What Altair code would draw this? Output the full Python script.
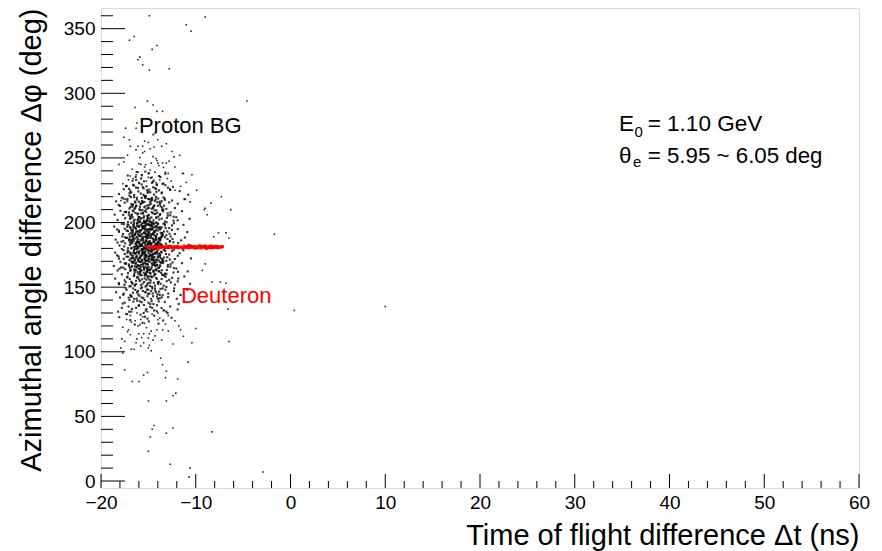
import altair as alt
import pandas as pd

# ---------------- axis ticks ----------------
X_MAJOR = [-20, -10, 0, 10, 20, 30, 40, 50, 60]
X_MINOR = [-18, -16, -14, -12, -8, -6, -4, -2, 2, 4, 6, 8, 12, 14, 16, 18,
           22, 24, 26, 28, 32, 34, 36, 38, 42, 44, 46, 48, 52, 54, 56, 58]
Y_MAJOR = [0, 50, 100, 150, 200, 250, 300, 350]
Y_MINOR = [10, 20, 30, 40, 60, 70, 80, 90, 110, 120, 130, 140, 160, 170, 180, 190,
           210, 220, 230, 240, 260, 270, 280, 290, 310, 320, 330, 340, 360]
X_DOMAIN = [-20, 60]
Y_DOMAIN = [-5.4, 366]

# ---------------- proton background: dense core (Δt ns, Δφ deg) ----------------
BG_CORE = [
    (-16.8,131),(-15.2,133),(-14.1,136),(-17.5,138),(-13.4,132),(-15.9,139),(-12.7,135),(-16.3,134),
    (-14.8,137),(-18.2,131),(-15.5,130),(-13.9,139),(-17.1,135),(-14.4,132),(-11.8,137),(-16.0,136),
    (-15.0,138),(-13.1,131),(-17.8,134),(-14.6,134),
    (-16.5,141),(-15.1,143),(-14.2,146),(-17.3,148),(-13.6,142),(-15.8,149),(-12.9,145),(-16.9,144),
    (-14.7,147),(-18.0,142),(-15.4,140),(-13.2,148),(-16.2,146),(-14.0,141),(-11.6,144),(-17.6,145),
    (-15.0,148),(-13.8,144),(-16.6,149),(-14.5,143),(-12.3,147),(-15.7,142),(-17.0,140),(-14.9,145),
    (-13.5,149),(-16.1,147),(-18.4,146),(-15.3,146),(-12.0,141),(-14.3,149),(-16.8,143),(-10.9,148),
    (-16.4,151.5),(-15.0,153.2),(-14.1,156.4),(-17.2,158.1),(-13.7,152.7),(-15.7,159.3),(-12.8,155.6),
    (-16.8,154.2),(-14.6,157.8),(-18.1,152.3),(-15.3,150.4),(-13.3,158.9),(-16.0,156.1),(-14.3,151.2),
    (-11.9,154.5),(-17.5,155.3),(-15.1,158.6),(-13.9,154.1),(-16.5,159.7),(-14.8,153.5),(-12.5,157.2),
    (-15.6,152.8),(-17.0,150.6),(-14.9,155.9),(-13.4,159.4),(-16.2,157.5),(-18.5,156.6),(-15.4,156.8),
    (-12.2,151.9),(-14.4,159.0),(-16.7,153.1),(-11.2,158.3),(-15.9,154.7),(-14.0,153.9),(-17.8,159.9),
    (-13.1,150.2),(-15.2,151.1),(-16.3,152.4),(-14.7,158.2),(-13.6,156.3),(-10.6,152.6),(-17.4,153.8),
    (-16.45,161.3),(-15.05,163.6),(-14.25,166.2),(-17.35,168.4),(-13.85,162.1),(-15.65,169.5),(-12.95,165.8),
    (-16.95,164.7),(-14.55,167.3),(-18.25,162.9),(-15.35,160.2),(-13.45,168.8),(-16.15,166.6),(-14.45,161.7),
    (-12.05,164.4),(-17.65,165.1),(-15.25,168.1),(-13.95,164.9),(-16.65,169.2),(-14.85,163.4),(-12.65,167.7),
    (-15.85,162.5),(-17.15,160.8),(-14.95,165.3),(-13.55,169.8),(-16.35,167.9),(-18.65,166.4),(-15.55,166.0),
    (-12.35,161.4),(-14.35,169.4),(-16.85,163.2),(-11.45,168.6),(-15.95,164.2),(-14.15,163.0),(-17.95,169.6),
    (-13.25,160.5),(-15.15,161.9),(-16.45,162.7),(-14.65,168.3),(-13.75,166.9),(-10.85,162.2),(-17.45,163.9),
    (-16.05,160.1),(-15.45,164.6),(-14.05,167.1),(-16.75,166.5),(-13.05,163.3),(-15.75,167.4),(-17.05,167.6),
    (-14.75,160.6),(-12.45,169.1),(-16.25,165.5),(-15.0,169.9),(-13.65,161.1),(-18.05,164.3),
    (-16.4,171.2),(-15.1,173.7),(-14.3,176.1),(-17.2,178.3),(-13.7,172.4),(-15.7,179.6),(-12.8,175.2),
    (-16.8,174.8),(-14.6,177.5),(-18.1,172.1),(-15.2,170.3),(-13.3,178.7),(-16.0,176.4),(-14.5,171.6),
    (-11.9,174.3),(-17.5,175.7),(-15.3,178.0),(-13.8,174.5),(-16.5,179.1),(-14.9,173.3),(-12.5,177.9),
    (-15.9,172.7),(-17.0,170.9),(-14.8,175.4),(-13.4,179.3),(-16.2,177.2),(-18.5,176.7),(-15.6,176.2),
    (-12.2,171.8),(-14.2,179.8),(-16.7,173.0),(-11.3,178.5),(-15.8,174.1),(-14.0,173.9),(-17.8,179.5),
    (-13.1,170.4),(-15.0,171.4),(-16.3,172.9),(-14.7,178.8),(-13.6,176.9),(-10.5,172.3),(-17.3,173.6),
    (-16.1,170.1),(-15.4,174.4),(-14.1,177.6),(-16.6,176.5),(-13.0,173.2),(-15.5,177.1),(-17.1,177.8),
    (-14.4,170.7),(-12.3,179.0),(-16.9,175.9),(-15.0,179.2),(-13.5,171.1),(-18.3,174.6),(-15.7,171.3),
    (-14.6,174.0),(-16.2,179.9),(-13.9,170.6),(-17.6,171.9),(-11.7,176.3),(-15.3,175.1),
    (-16.35,181.4),(-15.0,183.1),(-14.15,186.5),(-17.25,188.2),(-13.65,182.6),(-15.85,189.4),(-12.75,185.3),
    (-16.95,184.9),(-14.55,187.7),(-18.05,182.2),(-15.45,180.5),(-13.25,188.6),(-16.15,186.1),(-14.35,181.8),
    (-11.85,184.2),(-17.65,185.6),(-15.25,188.9),(-13.95,184.4),(-16.65,189.8),(-14.85,183.5),(-12.45,187.3),
    (-15.75,182.9),(-17.15,180.2),(-14.95,185.1),(-13.55,189.1),(-16.45,187.5),(-18.45,186.8),(-15.55,186.3),
    (-12.15,181.1),(-14.25,189.6),(-16.85,183.7),(-11.15,188.4),(-15.95,184.6),(-14.05,183.3),(-17.75,189.3),
    (-13.05,180.8),(-15.15,181.6),(-16.25,182.4),(-14.75,188.1),(-13.75,186.7),(-10.75,182.7),(-17.45,183.9),
    (-16.05,180.3),(-15.35,184.0),(-14.15,187.2),(-16.75,186.4),(-13.15,183.6),(-15.65,187.9),(-17.05,187.0),
    (-14.65,180.9),(-12.65,189.2),(-16.55,185.8),(-15.05,189.5),(-13.45,181.3),(-18.25,184.5),(-15.85,181.9),
    (-14.45,184.8),(-16.15,189.0),(-13.85,180.6),(-17.55,181.5),(-11.55,186.2),(-15.25,185.4),(-16.95,188.7),
    (-14.25,182.3),(-12.95,182.0),
    (-16.4,191.3),(-15.1,193.6),(-14.3,196.2),(-17.2,198.5),(-13.7,192.1),(-15.7,199.4),(-12.8,195.7),
    (-16.8,194.3),(-14.6,197.1),(-18.1,192.8),(-15.2,190.4),(-13.3,198.9),(-16.0,196.6),(-14.5,191.7),
    (-11.9,194.9),(-17.5,195.2),(-15.3,198.0),(-13.8,194.6),(-16.5,199.7),(-14.9,193.2),(-12.5,197.8),
    (-15.9,192.5),(-17.0,190.7),(-14.8,195.4),(-13.4,199.2),(-16.2,197.4),(-18.6,196.9),(-15.6,196.0),
    (-12.2,191.1),(-14.2,199.9),(-16.7,193.4),(-11.3,198.2),(-15.8,194.1),(-14.0,193.9),(-17.8,199.1),
    (-13.1,190.2),(-15.0,191.9),(-16.3,192.3),(-14.7,198.6),(-13.6,196.4),(-10.9,192.6),(-17.3,193.8),
    (-16.1,190.9),(-15.4,194.4),(-14.1,197.6),(-16.6,196.3),(-13.0,193.1),(-15.5,197.3),(-17.1,197.9),
    (-14.4,190.6),(-12.3,199.5),(-16.9,195.8),(-15.0,199.0),(-13.5,191.5),(-18.3,194.7),(-15.7,191.2),
    (-14.6,194.8),(-16.2,199.3),
    (-16.55,201.2),(-15.05,203.5),(-14.25,206.7),(-17.35,208.1),(-13.85,202.4),(-15.65,209.6),(-12.95,205.3),
    (-16.95,204.8),(-14.55,207.2),(-18.25,202.0),(-15.35,200.6),(-13.45,208.7),(-16.15,206.3),(-14.45,201.8),
    (-12.05,204.1),(-17.65,205.9),(-15.25,208.4),(-13.95,204.6),(-16.65,209.2),(-14.85,203.1),(-12.65,207.8),
    (-15.85,202.7),(-17.15,200.3),(-14.95,205.5),(-13.55,209.9),(-16.35,207.4),(-18.55,206.1),(-15.55,206.9),
    (-12.35,201.5),(-14.35,209.4),(-16.85,203.8),(-11.45,208.8),(-15.95,204.3),(-14.15,203.9),(-17.95,209.1),
    (-13.25,200.8),(-15.15,201.4),(-16.45,202.2),(-14.65,208.0),(-13.75,206.5),(-10.65,202.9),(-17.45,203.3),
    (-16.05,200.1),(-15.45,204.9),(-14.05,207.6),(-16.75,206.2),(-13.05,203.6),(-15.75,207.0),(-17.05,207.9),
    (-14.75,200.5),
    (-16.4,211.4),(-15.1,213.2),(-14.3,216.8),(-17.2,218.3),(-13.7,212.5),(-15.7,219.1),(-12.8,215.6),
    (-16.8,214.2),(-14.6,217.4),(-18.0,212.9),(-15.2,210.3),(-13.3,218.7),(-16.0,216.1),(-14.5,211.8),
    (-11.9,214.6),(-17.5,215.3),(-15.3,218.9),(-13.8,214.0),(-16.5,219.6),(-14.9,213.7),(-12.5,217.1),
    (-15.9,212.2),(-17.0,210.8),(-14.8,215.9),(-13.4,219.4),(-16.2,217.7),(-18.4,216.4),(-15.6,216.0),
    (-12.2,211.2),(-14.2,219.8),(-16.7,213.5),(-11.2,218.1),(-15.8,214.8),(-14.0,213.0),(-17.8,219.2),
    (-13.1,210.6),(-15.0,211.1),(-16.3,212.6),(-14.7,218.5),(-13.6,216.6),
    (-16.5,221.3),(-15.0,223.8),(-14.2,226.1),(-17.3,228.4),(-13.6,222.7),(-15.7,229.5),(-12.7,225.2),
    (-16.9,224.6),(-14.5,227.3),(-18.1,222.1),(-15.4,220.4),(-13.2,228.9),(-16.1,226.7),(-14.4,221.6),
    (-11.7,224.3),(-17.6,225.8),(-15.2,228.0),(-13.9,224.9),(-16.6,229.2),(-14.8,223.4),(-12.4,227.6),
    (-15.8,222.5),(-17.0,220.9),(-14.9,225.5),(-13.5,229.8),(-16.3,227.1),(-15.5,226.4),(-14.1,229.0),
    (-16.8,223.2),(-10.8,221.5),
]

# second set of core events
BG_CORE2 = [
    (-15.62,122.4),(-14.38,127.9),(-16.74,133.1),(-13.27,138.6),(-15.09,125.7),(-17.33,129.2),(-14.81,134.8),
    (-16.18,139.5),(-12.56,126.3),(-15.47,136.2),(-13.93,121.8),(-16.91,124.6),(-14.12,131.4),(-15.83,128.7),
    (-17.71,137.3),(-13.61,133.9),(-14.66,139.1),(-16.43,121.1),(-15.28,131.9),(-12.97,129.9),(-18.07,126.8),
    (-14.95,123.5),(-16.02,135.6),(-13.44,124.2),(-15.71,138.3),(-11.92,132.7),(-17.02,131.0),(-14.47,136.9),
    (-15.36,127.1),(-16.58,138.8),
    (-15.53,141.6),(-14.27,147.3),(-16.69,152.8),(-13.18,158.1),(-15.02,144.9),(-17.41,149.4),(-14.76,155.2),
    (-16.24,141.2),(-12.63,153.7),(-15.39,158.9),(-13.87,146.5),(-16.97,156.3),(-14.09,142.8),(-15.78,151.5),
    (-17.66,144.1),(-13.55,159.6),(-14.61,150.2),(-16.38,147.9),(-15.21,155.8),(-12.91,142.3),(-18.12,153.1),
    (-14.88,158.4),(-16.07,144.4),(-13.39,151.1),(-15.66,149.8),(-11.84,156.7),(-17.08,141.9),(-14.42,153.4),
    (-15.31,146.2),(-16.52,158.6),(-14.19,157.1),(-15.94,143.3),(-13.72,148.6),(-16.86,150.7),(-15.11,152.2),
    (-14.54,145.1),(-17.24,157.5),(-13.06,154.6),(-15.58,147.0),(-16.31,154.9),(-14.71,141.0),(-12.28,149.1),
    (-15.87,159.2),(-16.63,145.7),(-13.98,152.5),(-15.16,148.2),(-17.53,151.8),(-14.33,159.9),(-16.12,157.8),
    (-13.49,143.7),(-15.44,154.0),(-14.83,150.9),(-16.79,142.6),(-15.05,157.3),(-14.02,144.6),(-15.69,156.0),
    (-16.46,151.3),(-13.81,141.4),(-15.27,159.5),(-14.58,148.9),
    (-15.48,161.2),(-14.31,166.8),(-16.66,172.4),(-13.22,177.9),(-15.07,163.5),(-17.37,168.1),(-14.73,174.7),
    (-16.21,179.3),(-12.68,165.9),(-15.42,171.6),(-13.84,176.2),(-16.93,162.7),(-14.14,169.3),(-15.81,174.0),
    (-17.62,178.6),(-13.58,163.1),(-14.64,170.9),(-16.35,175.5),(-15.24,160.6),(-12.94,167.2),(-18.15,173.8),
    (-14.91,178.2),(-16.04,164.4),(-13.41,170.1),(-15.68,176.8),(-11.88,161.9),(-17.05,166.3),(-14.44,172.9),
    (-15.33,179.7),(-16.55,168.8),(-14.16,163.9),(-15.96,170.5),(-13.75,175.1),(-16.83,179.9),(-15.13,165.2),
    (-14.51,171.2),(-17.21,176.6),(-13.09,160.3),(-15.56,167.7),(-16.28,173.2),(-14.74,177.4),(-12.31,164.8),
    (-15.89,169.6),(-16.61,174.3),(-13.95,178.9),(-15.18,162.2),(-17.51,168.4),(-14.36,173.5),(-16.09,167.0),
    (-13.52,171.9),(-15.41,176.0),(-14.86,160.9),(-16.77,165.6),(-15.03,178.5),(-14.05,175.8),(-15.72,163.0),
    (-16.48,170.3),(-13.79,166.0),(-15.29,172.6),(-14.59,179.1),(-15.92,161.5),(-14.22,177.0),(-16.41,176.3),
    (-15.37,169.0),(-14.69,164.1),(-13.33,173.0),(-16.15,161.7),(-15.63,175.4),(-14.97,171.9),(-16.88,172.1),
    (-14.47,167.5),(-15.22,174.6),(-13.67,168.7),(-16.53,178.0),(-15.84,166.6),(-14.26,160.2),(-15.51,179.4),
    (-17.14,173.6),(-14.83,169.8),(-13.91,162.4),(-15.99,177.7),(-16.32,163.4),(-14.57,175.0),(-15.09,167.9),
    (-12.74,171.4),(-16.72,169.2),(-15.45,164.7),(-14.11,171.0),(-17.87,165.3),(-13.14,175.6),
    (-15.51,181.3),(-14.34,186.9),(-16.63,192.5),(-13.26,197.8),(-15.04,183.4),(-17.34,188.2),(-14.78,194.6),
    (-16.19,199.4),(-12.71,185.8),(-15.44,191.7),(-13.81,196.3),(-16.96,182.6),(-14.17,189.2),(-15.79,194.1),
    (-17.59,198.7),(-13.62,183.0),(-14.68,190.8),(-16.37,195.6),(-15.26,180.7),(-12.98,187.3),(-18.11,193.7),
    (-14.93,198.1),(-16.01,184.3),(-13.46,190.2),(-15.64,196.9),(-11.95,181.8),(-17.03,186.4),(-14.41,192.8),
    (-15.35,199.6),(-16.57,188.9),(-14.13,183.8),(-15.93,190.4),(-13.71,195.2),(-16.81,199.8),(-15.14,185.3),
    (-14.52,191.1),(-17.23,196.7),(-13.04,180.4),(-15.57,187.6),(-16.26,193.3),(-14.72,197.5),(-12.36,184.7),
    (-15.86,189.7),(-16.64,194.4),(-13.97,198.8),(-15.19,182.1),(-17.48,188.5),(-14.38,193.4),(-16.11,187.1),
    (-13.56,191.8),(-15.43,196.1),(-14.87,180.8),(-16.74,185.5),(-15.01,198.4),(-14.07,195.9),(-15.74,183.1),
    (-16.46,190.6),(-13.77,186.1),(-15.32,192.7),(-14.62,199.2),(-15.91,181.6),(-14.24,197.1),(-16.43,196.2),
    (-15.38,189.1),(-14.66,184.0),(-13.36,193.1),(-16.13,181.9),(-15.61,195.3),(-14.99,191.5),(-16.86,192.0),
    (-14.49,187.4),(-15.23,194.7),(-13.69,188.6),(-16.51,197.9),(-15.82,186.7),(-14.28,180.1),(-15.54,199.5),
    (-17.16,193.5),(-14.81,189.9),(-13.92,182.5),(-15.97,197.6),(-16.33,183.5),(-14.56,195.0),(-15.11,187.8),
    (-12.77,191.3),(-16.71,189.3),(-15.47,184.6),(-14.09,191.0),(-17.84,185.2),(-13.17,195.7),(-15.66,182.8),
    (-14.46,198.6),(-16.23,185.0),(-15.06,190.0),(-13.88,188.0),(-16.92,196.5),(-14.77,182.3),(-15.29,186.2),
    (-17.68,191.2),(-12.52,194.3),
    (-15.49,201.4),(-14.32,206.7),(-16.67,212.3),(-13.24,217.6),(-15.06,203.2),(-17.39,208.3),(-14.75,214.5),
    (-16.22,219.2),(-12.69,205.6),(-15.43,211.8),(-13.83,216.1),(-16.94,202.8),(-14.15,209.4),(-15.82,214.2),
    (-17.61,218.5),(-13.59,203.0),(-14.67,210.7),(-16.36,215.4),(-15.23,200.5),(-12.96,207.1),(-18.13,213.6),
    (-14.92,218.0),(-16.03,204.2),(-13.43,210.0),(-15.67,216.7),(-11.91,201.7),(-17.06,206.2),(-14.43,212.6),
    (-15.34,219.5),(-16.56,208.7),(-14.18,203.7),(-15.95,210.3),(-13.74,215.0),(-16.84,219.7),(-15.12,205.1),
    (-14.53,211.0),(-17.22,216.5),(-13.08,200.2),(-15.58,207.5),(-16.27,213.1),(-14.71,217.2),(-12.33,204.5),
    (-15.88,209.6),(-16.62,214.0),(-13.96,218.6),(-15.17,202.0),(-17.49,208.1),(-14.37,213.3),(-16.08,207.0),
    (-13.54,211.6),(-15.42,216.0),(-14.85,200.7),(-16.76,205.4),(-15.02,218.3),(-14.06,215.7),(-15.73,203.4),
    (-16.47,210.5),(-13.78,206.0),(-15.31,212.5),(-14.61,219.0),(-15.93,201.1),(-14.23,217.9),(-16.42,216.2),
    (-15.39,209.0),(-14.68,204.0),(-13.34,213.0),(-16.14,201.6),(-15.62,215.2),(-14.98,211.5),(-16.89,212.0),
    (-15.52,221.5),(-14.29,226.6),(-16.68,232.4),(-13.21,237.7),(-15.08,223.1),(-17.36,228.2),(-14.74,234.6),
    (-16.23,239.1),(-12.72,225.7),(-15.46,231.9),(-13.86,236.0),(-16.98,222.9),(-14.11,229.5),(-15.77,234.1),
    (-13.57,223.3),(-14.63,230.8),(-16.34,235.3),(-15.27,220.6),(-12.93,227.0),(-14.94,238.2),(-16.06,224.1),
    (-13.42,230.2),(-15.69,236.5),(-17.04,226.1),(-14.45,232.5),(-15.32,239.4),(-16.54,228.6),(-14.16,223.8),
    (-15.97,230.4),(-13.73,235.2),(-15.14,225.0),(-14.54,231.3),(-17.18,236.4),(-15.59,227.4),(-16.29,233.0),
]

# third set: darkest centre of the cluster
BG_CENTER = [
    (-15.3,182.6),(-14.7,171.9),(-16.1,193.4),(-15.8,165.2),(-14.2,188.7),(-15.0,176.3),(-16.4,179.8),
    (-13.9,196.1),(-15.5,203.7),(-14.5,162.4),(-16.0,185.0),(-15.2,170.5),(-13.7,180.9),(-16.6,198.2),
    (-14.9,191.6),(-15.7,174.8),(-14.3,168.1),(-15.9,200.4),(-16.3,168.9),(-14.1,177.2),(-15.4,195.8),
    (-14.8,184.3),(-16.8,186.7),(-15.1,161.7),(-13.8,173.6),(-15.6,189.1),(-14.4,199.3),(-16.2,174.0),
    (-15.0,205.9),(-14.6,180.1),(-15.8,178.5),(-13.6,190.2),(-16.5,163.8),(-15.3,197.4),(-14.0,184.9),
    (-16.9,176.6),(-15.5,168.3),(-14.7,194.5),(-15.9,183.2),(-14.2,171.3),(-16.1,202.6),(-15.2,187.8),
    (-13.9,164.9),(-16.7,191.0),(-14.5,175.7),(-15.6,179.4),(-14.9,201.3),(-16.0,166.5),(-15.4,173.1),
    (-14.3,192.8),(-15.75,186.1),(-14.65,165.7),(-16.35,183.9),(-15.15,198.7),(-13.85,186.4),(-15.45,163.6),
    (-16.55,172.2),(-14.95,178.0),(-15.25,191.2),(-14.15,181.6),(-16.05,197.0),(-15.65,170.9),(-14.45,186.0),
    (-16.75,180.4),(-15.05,167.4),(-13.65,177.5),(-15.85,194.0),(-14.85,162.9),(-16.25,188.4),(-15.35,176.9),
    (-14.05,199.8),(-16.45,166.1),(-15.55,184.5),(-14.75,188.9),(-15.95,172.6),(-14.35,163.2),(-16.15,180.7),
    (-15.1,193.9),(-13.75,169.5),(-16.65,204.0),(-15.6,177.8),(-14.55,196.6),(-15.85,161.0),(-14.25,183.3),
    (-16.4,190.5),(-15.25,174.5),(-14.85,185.6),(-16.0,176.0),(-15.45,200.9),(-14.1,166.9),(-16.3,195.2),
    (-15.7,182.0),(-14.6,173.4),(-15.0,188.2),(-16.8,170.0),(-14.4,179.0),(-15.5,192.1),(-13.95,181.8),
    (-16.2,184.6),(-15.15,164.3),(-14.8,197.7),(-15.9,169.7),(-14.3,176.1),(-16.5,181.2),(-15.3,166.0),
    (-14.65,190.7),(-15.75,198.0),(-13.8,184.0),(-16.1,171.7),(-15.05,183.6),(-14.45,169.2),(-16.6,187.3),
    (-15.4,180.5),(-14.2,194.0),(-15.95,189.9),(-14.9,174.2),(-16.35,176.4),(-15.6,196.5),(-14.0,172.8),
    (-15.2,179.6),(-16.7,184.1),(-14.7,182.9),(-15.8,163.0),(-14.55,200.2),(-16.05,192.7),(-15.35,171.0),
    (-13.7,187.6),(-16.25,165.8),(-15.0,195.0),(-14.35,185.2),
]

# ---------------- proton background: sparse outliers ----------------
BG_HALO = [
    (-14.9,360),(-9.0,359),(-11.0,353),(-10.5,348),(-16.5,344),(-17.0,341),(-14.1,337),(-14.6,334),
    (-15.9,328),(-16.1,326),(-15.6,322),(-14.9,318),(-12.8,319),(-4.6,294),(-15.1,294),(-14.5,291),
    (-16.4,289),(-14.1,286),(-13.5,286),(-17.4,273),(-16.3,273),(-17.6,266),(-17.0,264),(-14.5,268),
    (-14.0,264),(-13.1,261),(-13.6,259),(-11.7,252),(-18.1,245),(-11.3,238),
    (-16.2,277),(-14.3,269),(-16.9,259),(-15.4,263),(-15.0,262),(-16.1,259),(-15.6,259),(-14.8,257),
    (-15.4,255),(-12.5,255),(-14.5,251),(-14.1,248),(-14.7,246),(-14.0,246),(-13.5,246),(-13.1,246),
    (-15.8,245),(-15.4,243),(-12.2,243),(-16.1,239),(-15.0,238),(-14.3,239),(-13.2,239),(-12.9,238),
    (-11.4,238),(-10.4,237),(-17.1,233),(-16.6,234),(-16.3,237),(-17.7,230),(-11.0,231),(-9.9,225),
    (-11.6,228),(-12.2,225),(-9.0,211),(-11.1,218),(-10.6,216),(-17.9,217),(-17.4,218),
    (-15.2,232),(-14.6,235),(-16.0,231),(-13.8,233),(-15.7,237),(-14.2,231),(-13.0,234),(-16.9,236),
    (-15.0,235),(-12.6,232),
    (-16.7,241.3),(-15.3,244.8),(-14.2,249.6),(-17.2,252.1),(-13.4,242.7),(-15.9,250.3),(-12.8,247.5),
    (-16.3,256.2),(-14.8,240.6),(-15.6,253.9),(-13.9,244.1),(-17.6,247.0),(-14.4,258.4),(-16.0,245.5),
    (-12.3,250.8),
    (-7.3,220),(-8.4,215),(-6.3,210),(-9.1,210),(-8.8,206),(-1.7,191),(-7.6,192),(-6.8,192),
    (-8.1,189),(-6.5,188),(-9.0,168),(-9.3,163),(-8.3,154),(-7.4,154),(-6.8,153),(10.0,135),
    (0.4,132),(-6.6,133),(-6.5,108),(-8.3,38),(-2.9,7),
    (-13.7,95),(-13.5,90),(-10.8,92),(-17.5,86),(-13.1,85),(-15.1,84),(-15.5,82),(-13.2,80),
    (-11.9,79),(-16.7,77),(-16.0,77),(-12.1,68),(-12.4,66),(-15.0,62),(-13.1,62),(-14.4,43),
    (-14.6,40),(-12.4,41),(-13.1,37),(-14.8,34),(-15.0,23),(-12.7,13),(-10.6,10),(-10.7,3),
    (-10.4,107),(-10.0,118),(-11.3,112),(-12.4,106),(-11.6,117),(-17.8,110),(-16.8,102),(-17.7,99),
    (-17.9,103),(-16.3,107),(-15.5,107),(-14.9,105),(-15.0,103),(-16.2,110),(-15.7,111),(-14.5,109),
    (-16.0,114),(-14.9,114),(-14.7,116),(-17.7,119),(-17.1,117),(-15.9,121),(-15.4,122),(-14.1,117),
    (-13.5,117),(-11.8,120),(-12.2,124),(-17.3,125),(-16.8,123),(-16.4,124),(-15.8,125),
    (-16.9,128),(-15.6,127),(-14.6,129),(-13.8,126),(-15.1,131),(-16.2,130),(-14.0,130),(-12.9,128),
    (-17.2,129),(-13.3,132),
    (-16.5,101.9),(-15.2,118.7),(-14.3,112.3),(-17.2,115.6),(-13.6,109.2),(-15.8,104.5),(-12.9,116.1),
    (-16.1,119.9),(-14.7,100.8),(-15.5,114.0),(-13.2,121.4),(-17.5,108.0),(-14.0,124.8),(-16.9,113.2),
    (-15.0,110.6),
]

# ---------------- deuteron band (red) ----------------
DEUT = [
    (-15.1,181.0),(-14.9,180.6),(-14.7,181.4),(-14.45,180.9),(-14.3,181.6),(-14.05,180.4),(-13.9,181.2),
    (-13.7,180.8),(-13.45,181.5),(-13.3,180.5),(-13.1,181.1),(-12.85,180.7),(-12.7,181.7),(-12.5,180.3),
    (-12.3,181.3),(-12.15,180.9),(-11.95,181.6),(-11.8,180.5),(-11.6,181.0),(-11.4,180.2),(-11.25,181.8),
    (-11.05,180.7),(-10.9,181.4),(-10.7,180.4),(-10.55,181.9),(-10.4,180.8),(-10.2,181.5),(-10.05,180.2),
    (-9.9,181.2),(-9.75,180.6),(-9.6,182.0),(-9.45,180.3),(-9.3,181.4),(-9.15,180.9),(-9.0,181.8),
    (-8.85,180.1),(-8.7,181.1),(-8.55,180.6),(-8.4,181.9),(-8.25,180.4),(-8.1,181.3),(-7.95,180.8),
    (-7.8,181.6),(-7.65,180.5),(-7.5,181.1),(-7.35,180.9),(-7.2,181.4),(-9.85,180.9),(-9.2,181.6),
    (-8.95,180.5),(-8.6,181.3),(-8.3,180.9),(-8.0,181.5),(-7.7,181.0),(-10.3,181.1),(-10.8,181.0),
    (-12.0,180.9),(-12.6,181.2),(-13.2,180.8),(-13.8,181.1),(-14.6,180.9),(-11.1,181.2),
]

ANN_TEXT = ["Proton BG", "Deuteron", "E", "0", "= 1.10 GeV", "θ", "e", "= 5.95 ~ 6.05 deg"]
ANN_X = [-16.0, -11.56, 34.67, 36.3, 37.7, 34.67, 36.15, 37.7]
ANN_Y = [269, 138, 270.5, 266.3, 270.5, 245.9, 243.0, 245.9]
ANN_SIZE = [22, 22, 22.5, 15, 22.5, 22.5, 15, 22.3]
ANN_COLOR = ["black", "red", "black", "black", "black", "black", "black", "black"]

FONT = "Liberation Sans"

core_df = pd.DataFrame(BG_CORE + BG_CORE2 + BG_CENTER, columns=["t", "phi"])
halo_df = pd.DataFrame(BG_HALO, columns=["t", "phi"])
deut_df = pd.DataFrame(DEUT, columns=["t", "phi"])
ann_df = pd.DataFrame({"label": ANN_TEXT, "t": ANN_X, "phi": ANN_Y,
                       "fs": ANN_SIZE, "col": ANN_COLOR})

x_scale = alt.Scale(domain=X_DOMAIN, nice=False, zero=False)
y_scale = alt.Scale(domain=Y_DOMAIN, nice=False, zero=False)

x_axis = alt.Axis(values=X_MAJOR, ticks=False, domain=False, grid=False, labelFlush=False,
                  labelFontSize=19, labelFont=FONT, labelColor="black", labelPadding=5,
                  title="Time of flight difference Δt (ns)", titleFont=FONT,
                  titleFontSize=29, titleFontWeight="normal", titleColor="black",
                  titleX=758, titleY=56, titleAlign="right", titleBaseline="alphabetic")
y_axis = alt.Axis(values=Y_MAJOR, ticks=False, domain=False, grid=False, labelFlush=False,
                  labelFontSize=19, labelFont=FONT, labelColor="black", labelPadding=6,
                  title="Azimuthal angle difference Δφ (deg)", titleFont=FONT,
                  titleFontSize=29, titleFontWeight="normal", titleColor="black",
                  titleAngle=270, titleX=-84, titleY=0, titleAlign="right",
                  titleBaseline="top")

core = alt.Chart(core_df).mark_square(size=4.5, opacity=0.8, color="black").encode(
    x=alt.X("t:Q", scale=x_scale, axis=x_axis),
    y=alt.Y("phi:Q", scale=y_scale, axis=y_axis),
)
halo = alt.Chart(halo_df).mark_square(size=2.5, opacity=0.85, color="black").encode(
    x="t:Q", y="phi:Q")
deut = alt.Chart(deut_df).mark_square(size=9, opacity=1, color="#ff0000").encode(
    x="t:Q", y="phi:Q")

xmaj = alt.Chart(pd.DataFrame({"v": X_MAJOR})).mark_rule(color="black", strokeWidth=1).encode(
    x="v:Q", y=alt.value(480), y2=alt.value(466))
xmin = alt.Chart(pd.DataFrame({"v": X_MINOR})).mark_rule(color="black", strokeWidth=1).encode(
    x="v:Q", y=alt.value(480), y2=alt.value(473))
ymaj = alt.Chart(pd.DataFrame({"v": Y_MAJOR})).mark_rule(color="black", strokeWidth=1).encode(
    y="v:Q", x=alt.value(0), x2=alt.value(24))
ymin = alt.Chart(pd.DataFrame({"v": Y_MINOR})).mark_rule(color="black", strokeWidth=1).encode(
    y="v:Q", x=alt.value(0), x2=alt.value(12))

ann = alt.Chart(ann_df).mark_text(align="left", baseline="alphabetic", font=FONT).encode(
    x="t:Q", y="phi:Q", text="label:N",
    size=alt.Size("fs:Q", scale=None, legend=None),
    color=alt.Color("col:N", scale=None, legend=None),
)

chart = alt.layer(core, halo, deut, xmaj, xmin, ymaj, ymin, ann).properties(
    width=758, height=480,
    autosize=alt.AutoSizeParams(type="none"),
    padding={"left": 93, "top": 0, "right": 15, "bottom": 75},
).configure_view(stroke="black", strokeWidth=1).configure(background="white")

chart.save("out.html", embed_options={"renderer": "svg", "actions": False})
